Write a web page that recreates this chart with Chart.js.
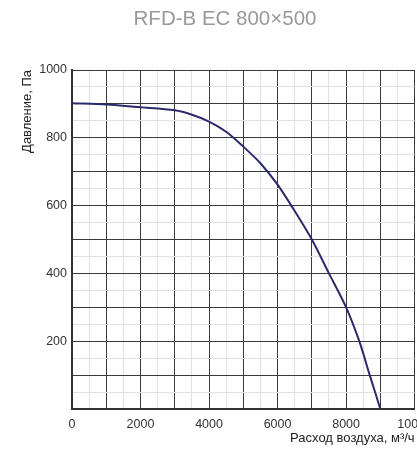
<!DOCTYPE html>
<html>
<head>
<meta charset="utf-8">
<script src="https://cdn.jsdelivr.net/npm/chart.js@4"></script>
<style>
    html, body { margin: 0; padding: 0; overflow: hidden; background: #fff; }
    #wrap { width: 440px; height: 452px; }
</style>
</head>
<body>
<div id="wrap"><canvas id="chart" width="440" height="452"></canvas></div>
<script>
const TITLE = 'RFD-B EC 800×500';
const X_TITLE = 'Расход воздуха, м³/ч';
const Y_TITLE = 'Давление, Па';

// точки кривой
const airflow = [0, 1000, 2000, 3000, 3500, 4000, 4500, 5000, 5500, 6000, 6400, 7000, 7500, 8000, 8385, 8690, 9000];
const pressure = [902, 898, 890, 881, 868, 848, 818, 774, 725, 662, 600, 500, 400, 300, 200, 100, 0];

const X_MAX = 10000;
const Y_MAX = 1000;

const FONT = '"Liberation Sans", Arial, sans-serif';
const MAJOR = '#3a3a3a';
const MINOR = '#e2e2e2';
const LINE_COLOR = '#2b2a6b';

const ctx = document.getElementById('chart').getContext('2d');

// заголовок рисуем сами, чтобы поставить его как на картинке
const titlePlugin = {
    id: 'plainTitle',
    afterDraw(chart) {
        const c = chart.ctx;
        c.save();
        c.font = '20.5px ' + FONT;
        c.fillStyle = '#999';
        c.textAlign = 'center';
        c.textBaseline = 'alphabetic';
        c.fillText(TITLE, 225, 25);
        c.restore();
    }
};

const points = airflow.map((x, i) => ({ x, y: pressure[i] }));

new Chart(ctx, {
    type: 'line',
    data: {
        datasets: [{
            data: points,
            borderColor: LINE_COLOR,
            borderWidth: 2,
            pointRadius: 0,
            fill: false,
            tension: 0.3,
        }],
    },
    options: {
        responsive: false,
        animation: false,
        devicePixelRatio: 1,
        layout: { padding: { left: 16, right: 22, top: 70, bottom: 2 } },
        plugins: {
            legend: { display: false },
            tooltip: { enabled: false },
        },
        scales: {
            x: {
                type: 'linear',
                min: 0,
                max: X_MAX,
                afterFit: s => { s.height = 41; },
                border: { color: '#333', width: 2 },
                grid: {
                    drawTicks: false,
                    color: c => (c.tick.value % 1000 === 0 ? MAJOR : MINOR),
                },
                ticks: {
                    stepSize: 500,
                    autoSkip: false,
                    maxRotation: 0,
                    padding: 8,
                    color: '#333',
                    font: { family: FONT, size: 12.5 },
                    callback: v => (v % 2000 === 0 ? String(v) : ''),
                },
                title: {
                    display: true,
                    text: X_TITLE,
                    align: 'end',
                    color: '#222',
                    font: { family: FONT, size: 13 },
                    padding: { top: 4, bottom: 4 },
                },
            },
            y: {
                min: 0,
                max: Y_MAX,
                afterFit: s => { s.width = 56; },
                border: { color: '#333', width: 2 },
                grid: {
                    drawTicks: false,
                    color: c => (c.tick.value % 100 === 0 ? MAJOR : MINOR),
                },
                ticks: {
                    stepSize: 50,
                    autoSkip: false,
                    padding: 5,
                    color: '#333',
                    font: { family: FONT, size: 12.5 },
                    callback: v => (v !== 0 && v % 200 === 0 ? String(v) : ''),
                },
                title: {
                    display: true,
                    text: Y_TITLE,
                    align: 'end',
                    color: '#222',
                    font: { family: FONT, size: 13 },
                    padding: { top: 4, bottom: 4 },
                },
            },
        },
    },
    plugins: [titlePlugin],
});
</script>
</body>
</html>
